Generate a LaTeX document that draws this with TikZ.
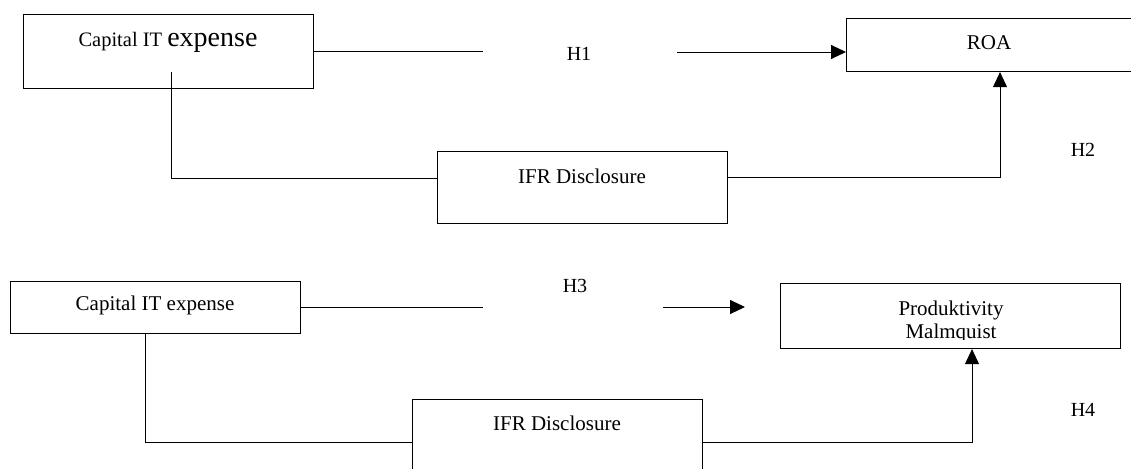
\documentclass[tikz,border=0pt]{standalone}
\usepackage{fontspec}
\setmainfont{Liberation Serif}
\usetikzlibrary{arrows.meta}
\begin{document}
\begin{tikzpicture}[x=1pt,y=-1pt,
  box/.style={draw,line width=1.1pt,inner sep=0pt,anchor=north west},
  conn/.style={line width=0.9pt},
  arr/.style={line width=0.9pt,-{Triangle[length=15pt,width=14pt]}},
  lab/.style={font=\fontsize{20}{23}\selectfont,inner sep=0pt},
  txt/.style={font=\fontsize{21}{23}\selectfont,inner sep=0pt}]
\useasboundingbox (0,0) rectangle (1131,468);
% top diagram
\node[box,minimum width=290pt,minimum height=74pt] (cap1) at (23,14) {};
\node[txt] (cap1t) at (168,42) {\fontsize{20.5}{23}\selectfont Capital IT {\fontsize{28}{30}\selectfont expense}};
\node[box,minimum width=300pt,minimum height=53pt] (roa) at (846,18) {};
\node[txt] (roat) at (989,43) {ROA};
\node[box,minimum width=290pt,minimum height=72pt] (ifr1) at (437,151) {};
\node[txt] (ifr1t) at (582,176) {IFR Disclosure};
\node[lab] (h1) at (579,54) {H1};
\node[lab] (h2) at (1083,150) {H2};
\coordinate (h1a) at (483,51);
\coordinate (h1b) at (677,52);
\coordinate (c1) at (171,72);
\coordinate (c1b) at (171,178);
\coordinate (r1) at (1000,177);
\draw[conn] (cap1.east |- h1a) -- (h1a);
\draw[arr] (h1b) -- (roa.west |- h1b);
\draw[conn] (c1) -- (c1b) -- (ifr1.west |- c1b);
\draw[arr] (ifr1.east |- r1) -- (r1) -- (r1 |- roa.south);
% bottom diagram
\node[box,minimum width=290pt,minimum height=52pt] (cap2) at (10,281) {};
\node[txt] (cap2t) at (155,305) {Capital IT expense};
\node[box,minimum width=340pt,minimum height=65pt] (prod) at (780,283) {};
\begin{scope}
\clip (780,283) rectangle (1120,339);
\node[txt,align=center,anchor=north] (prodt) at (951,301) {Produktivity\\Malmquist};
\end{scope}
\node[box,minimum width=290pt,minimum height=90pt] (ifr2) at (412,399) {};
\node[txt] (ifr2t) at (557,423) {IFR Disclosure};
\node[lab] (h3) at (575,286) {H3};
\node[lab] (h4) at (1083,410) {H4};
\coordinate (h3a) at (483,307);
\coordinate (h3b) at (663,307);
\coordinate (h3c) at (745,307);
\coordinate (c2) at (145,442);
\coordinate (r2) at (972,442);
\draw[conn] (cap2.east |- h3a) -- (h3a);
\draw[arr] (h3b) -- (h3c);
\draw[conn] (cap2.south -| c2) -- (c2) -- (ifr2.west |- c2);
\draw[arr] (ifr2.east |- r2) -- (r2) -- (r2 |- prod.south);
\end{tikzpicture}
\end{document}
